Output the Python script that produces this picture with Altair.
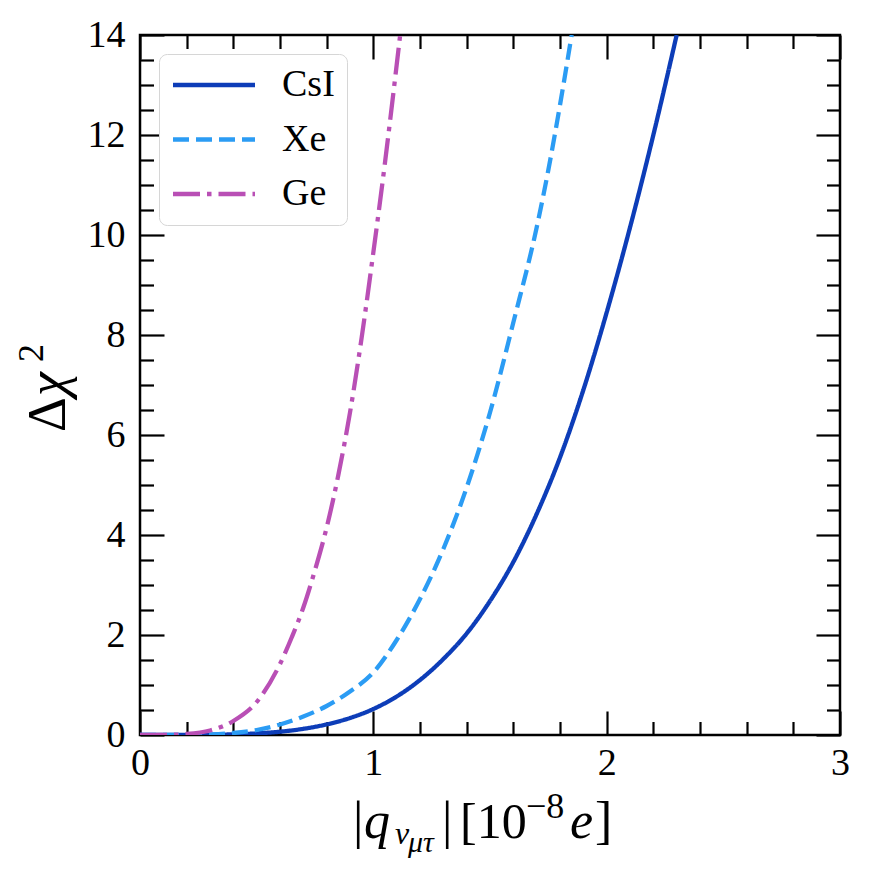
import altair as alt
import pandas as pd

FONT = "Liberation Serif"

detectors = ["CsI", "Xe", "Ge"]
colors = ["#0d3db8", "#2b9cf4", "#b94fb5"]
dashes = [[1, 0], [16, 7], [27, 7, 4.5, 7]]

csi_q = [0, 0.2, 0.3, 0.4, 0.5, 0.6, 0.7, 0.8, 0.9, 1.0, 1.1, 1.2, 1.3, 1.4, 1.5, 1.6, 1.7, 1.8, 1.9, 2.0, 2.1, 2.2, 2.3]
csi_chi2 = [0, 0.001, 0.004, 0.013, 0.032, 0.066, 0.124, 0.212, 0.34, 0.52, 0.77, 1.1, 1.52, 2.03, 2.68, 3.46, 4.42, 5.55, 6.9, 8.45, 10.15, 12.0, 14.0]

xe_q = [0, 0.2, 0.3, 0.4, 0.5, 0.6, 0.7, 0.8, 0.9, 1.0, 1.1, 1.2, 1.3, 1.4, 1.5, 1.6, 1.7, 1.75, 1.8, 1.85]
xe_chi2 = [0, 0.003, 0.012, 0.04, 0.1, 0.21, 0.37, 0.58, 0.87, 1.25, 1.9, 2.72, 3.72, 4.95, 6.45, 8.25, 10.15, 11.3, 12.6, 14.0]

ge_q = [0, 0.1, 0.2, 0.3, 0.4, 0.5, 0.6, 0.65, 0.7, 0.75, 0.8, 0.85, 0.9, 0.95, 1.0, 1.05, 1.1, 1.115]
ge_chi2 = [0, 0.001, 0.02, 0.09, 0.28, 0.66, 1.42, 1.95, 2.55, 3.3, 4.15, 5.2, 6.45, 7.95, 9.65, 11.45, 13.4, 14.0]

x_major = [0, 1, 2, 3]
x_minor = [0.2, 0.4, 0.6, 0.8, 1.2, 1.4, 1.6, 1.8, 2.2, 2.4, 2.6, 2.8]
y_major = [0, 2, 4, 6, 8, 10, 12, 14]
y_minor = [0.5, 1, 1.5, 2.5, 3, 3.5, 4.5, 5, 5.5, 6.5, 7, 7.5, 8.5, 9, 9.5,
           10.5, 11, 11.5, 12.5, 13, 13.5]

rows = []
for name, qs, cs in [("CsI", csi_q, csi_chi2), ("Xe", xe_q, xe_chi2), ("Ge", ge_q, ge_chi2)]:
    for q, c in zip(qs, cs):
        rows.append({"q": q, "chi2": c, "det": name})
df = pd.DataFrame(rows)
one = pd.DataFrame({"k": [0]})

MAJ = 24
MIN = 13.5

xscale = alt.Scale(domain=[0, 3], nice=False, zero=False)
yscale = alt.Scale(domain=[0, 14], nice=False, zero=False)


def axis(orient, values, size, labels):
    return alt.Axis(orient=orient, values=values, tickSize=size, offset=-size,
                    labels=labels, domain=False, grid=False, title=None,
                    tickColor="black", tickWidth=2.2,
                    labelFont=FONT, labelFontSize=38, labelColor="black",
                    labelPadding=9 if orient in ("bottom", "top") else 15,
                    labelFlush=False, labelOverlap=False)


leg = alt.Legend(title=None, orient="none", legendX=19, legendY=19,
                 symbolType="M-2.5,0H2.5", symbolSize=1076, symbolStrokeWidth=4.3,
                 symbolFillColor="transparent", symbolOffset=24,
                 labelOffset=49, labelFont=FONT, labelFontSize=38, labelColor="black",
                 padding=12, rowPadding=16.5, fillColor="white",
                 strokeColor="#d6d6d6", cornerRadius=8)

main = alt.Chart(df).mark_line(strokeWidth=4.3, clip=True, interpolate="monotone").encode(
    x=alt.X("q:Q", scale=xscale, axis=axis("bottom", x_major, MAJ, True)),
    y=alt.Y("chi2:Q", scale=yscale, axis=axis("left", y_major, MAJ, True)),
    color=alt.Color("det:N", scale=alt.Scale(domain=detectors, range=colors), legend=leg),
    strokeDash=alt.StrokeDash("det:N", scale=alt.Scale(domain=detectors, range=dashes), legend=leg),
)


def ghost(xax, yax):
    return alt.Chart(df).mark_line(strokeOpacity=0, clip=True).encode(
        x=alt.X("q:Q", scale=xscale, axis=xax),
        y=alt.Y("chi2:Q", scale=yscale, axis=yax),
        detail="det:N",
    )


g1 = ghost(axis("bottom", x_minor, MIN, False), axis("left", y_minor, MIN, False))
g2 = ghost(axis("top", x_major, MAJ, False), axis("right", y_major, MAJ, False))
g3 = ghost(axis("top", x_minor, MIN, False), axis("right", y_minor, MIN, False))


def txt(text, x, y, size, italic=False, angle=0):
    return alt.Chart(one).mark_text(
        text=text, font=FONT, fontSize=size, fontStyle="italic" if italic else "normal",
        align="left", baseline="alphabetic", angle=angle, color="black"
    ).encode(x=alt.value(x), y=alt.value(y))


# x-axis title: |q_{nu_{mu tau}}|[10^{-8} e]
texts = [
    txt("|", 213, 803, 52),
    txt("q", 224, 803, 52, italic=True),
    txt("ν", 255, 809, 32, italic=True),
    txt("μτ", 268, 817, 30, italic=True),
    txt("|", 302, 803, 52),
    txt("[10", 320, 803, 50),
    txt("−8", 386, 783, 36),
    txt("e", 430, 803, 52, italic=True),
    txt("]", 455, 803, 52),
    # y-axis title: Delta chi^2
    txt("Δ", -75, 397, 54, angle=270),
    txt("χ", -75, 361, 54, italic=True, angle=270),
    txt("2", -97, 327, 36, angle=270),
]

chart = alt.layer(main, g1, g2, g3, *texts).resolve_axis(
    x="independent", y="independent"
).properties(
    width=700, height=700,
    autosize=alt.AutoSizeParams(type="none"),
    padding={"left": 132, "top": 27, "right": 22, "bottom": 137},
).configure_view(stroke="black", strokeWidth=2.5)

chart.save("out.html", embed_options={"renderer": "svg", "actions": False})
